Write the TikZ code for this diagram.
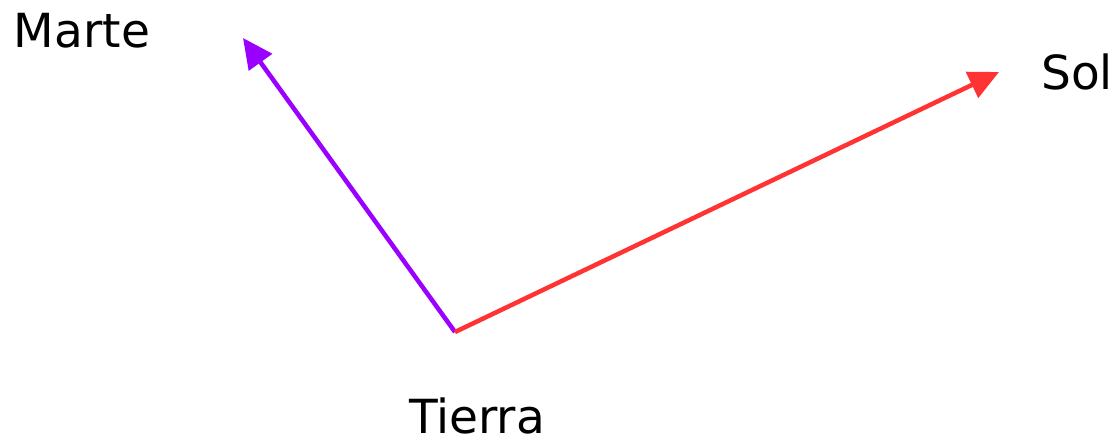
\documentclass[tikz,border=0pt]{standalone}
\usepackage{fontspec}
\setmainfont{DejaVu Sans}
\usetikzlibrary{arrows.meta}
\definecolor{marscol}{HTML}{9900FF}
\definecolor{suncol}{HTML}{FF3333}
\tikzset{
  lbl/.style={inner sep=0pt, anchor=base, font=\fontsize{47}{56}\selectfont},
  vec/.style={line width=4.5pt, -{Triangle[length=30pt,width=28pt]}}
}
\begin{document}
\begin{tikzpicture}[x=1pt,y=-1pt]
\useasboundingbox (0,0) rectangle (1120,443);
\coordinate (T) at (455,332);
\coordinate (M) at (243,38);
\coordinate (S) at (999,72);
\node[lbl] (marte) at (82,48) {Marte};
\node[lbl] (sol) at (1077,90) {Sol};
\node[lbl] (tierra) at (477,434) {Tierra};
\draw[vec, marscol] (T) -- (M);
\draw[vec, suncol] (T) -- (S);
\end{tikzpicture}
\end{document}
